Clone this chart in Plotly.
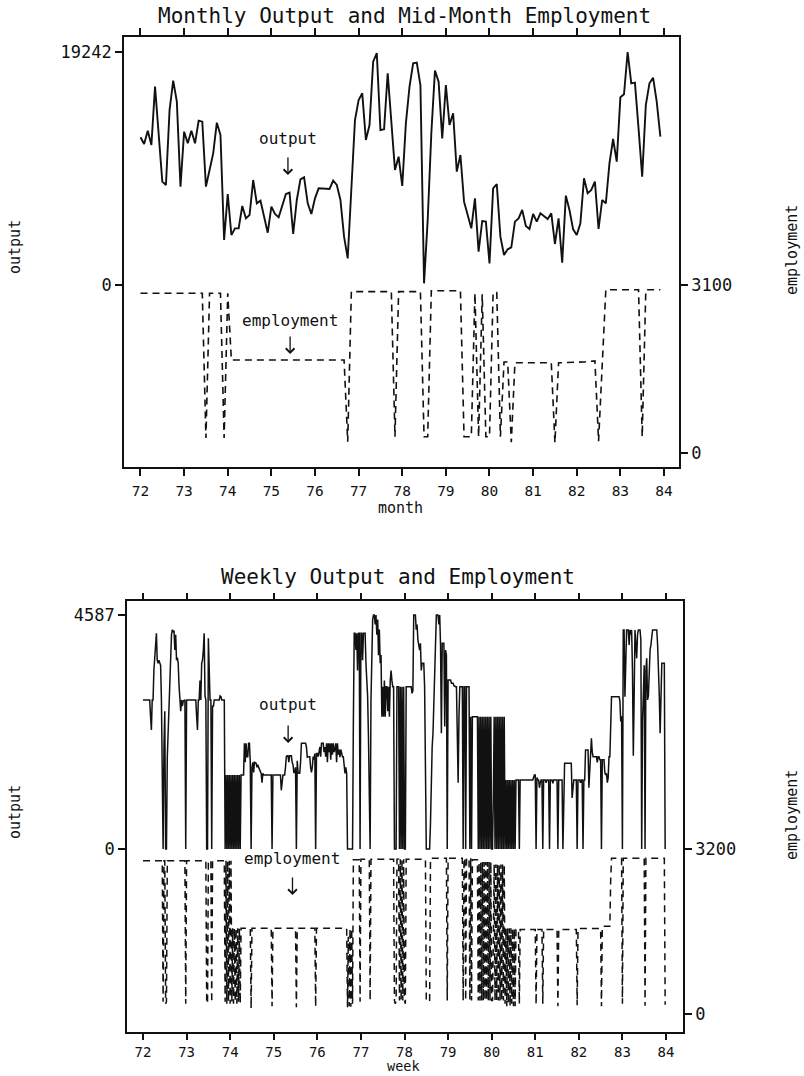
import plotly.graph_objects as go

# ---------------- monthly data (Jan 1972 .. Dec 1983) ----------------
monthly_output = [
    12196, 11645, 12746, 11563, 16380, 12251, 8534, 8259, 14453, 16876, 15142, 8121,
    12664, 11700, 12746, 11700, 13572, 13490, 8121, 9498, 10874, 13407, 12389, 3717,
    7516, 4130, 4680, 4680, 6525, 5506, 5781, 8672, 6745, 6965, 5644, 4322,
    6470, 5864, 5589, 6607, 7516, 7626, 4212, 7020, 8727, 8892, 6745, 5864,
    7158, 7984, 7984, 7929, 7929, 8617, 8259, 7020, 3992, 2202, 8397, 13627,
    15279, 15830, 11976, 13214, 18445, 19150, 12801, 12857, 17482, 13214, 9498, 10599,
    8176, 13352, 16380, 18307, 18363, 16518, 138, 5368, 12526, 17702, 16793, 12113,
    16518, 13214, 14178, 9360, 10737, 6883, 5781, 4680, 7158, 2753, 5286, 5231,
    1789, 7984, 8342, 3992, 2478, 2946, 3111, 5231, 5506, 6194, 4873, 4625,
    5864, 5231, 5919, 5699, 5451, 5919, 3386, 5506, 1845, 7378, 6194, 4598,
    4130, 5093, 8810, 7571, 7846, 8534, 4625, 7020, 6745, 10048, 12058, 10186,
    15499, 15747, 19242, 16656, 16711, 12939, 8947, 14866, 16656, 17124, 15142, 12251,
]
monthly_employment = [
    2947, 2947, 2947, 2947, 2947, 2947, 2947, 2947, 2947, 2947, 2947, 2947,
    2947, 2947, 2947, 2947, 2947, 2947, 277, 2947, 2947, 2947, 2947, 277,
    2947, 1716, 1716, 1716, 1716, 1716, 1716, 1716, 1716, 1716, 1716, 1716,
    1716, 1716, 1716, 1716, 1716, 1716, 1716, 1716, 1716, 1716, 1716, 1716,
    1716, 1716, 1716, 1716, 1716, 1716, 1716, 1716, 1716, 208, 2977, 2977,
    2977, 2977, 2977, 2977, 2977, 2977, 2977, 2977, 2977, 2977, 300, 2977,
    2977, 2977, 2977, 2977, 2977, 2977, 300, 300, 2995, 2995, 2995, 2995,
    2995, 2995, 2995, 2995, 2995, 300, 300, 300, 2950, 300, 2930, 300,
    300, 2960, 2960, 300, 1680, 1680, 200, 1666, 1666, 1666, 1666, 1666,
    1666, 1666, 1666, 1666, 1666, 1666, 190, 1666, 1666, 1666, 1680, 1680,
    1680, 1680, 1680, 1690, 1690, 1700, 220, 1690, 3013, 3013, 3013, 3013,
    3013, 3013, 3013, 3013, 3013, 3013, 300, 3013, 3013, 3013, 3013, 3013,
]

# ---------------- weekly data, one list per year (52 weeks) ----------------
wout72 = [2921, 2921, 2921, 2921, 2921, 2921, 2921, 2921, 2921, 2600, 2333, 2921, 2921, 3500, 3800, 4000, 4228, 3700, 3640, 3700, 3640, 3600, 2921, 1200, 0, 2000, 2700, 0, 0, 1800, 2300, 2900, 3300, 3800, 4200, 4300, 4250, 4280, 3900, 4200, 3700, 3750, 3640, 3200, 2921, 2700, 2921, 2800, 2900, 2921, 2921, 0]
wout73 = [2921, 2921, 2921, 2921, 2921, 2921, 2921, 2921, 2921, 2921, 2921, 2921, 2600, 2333, 2921, 2921, 3300, 2921, 3640, 3700, 3900, 4228, 3000, 2921, 0, 0, 4130, 3200, 2921, 2921, 0, 2800, 2800, 2921, 2921, 2921, 2921, 2921, 2921, 2921, 3000, 2986, 2921, 2921, 2921, 2921, 0, 1450, 0, 1450, 0, 1450]
wout74 = [0, 1450, 0, 1450, 0, 1450, 0, 1450, 0, 1450, 0, 1450, 0, 1450, 1450, 1450, 1450, 2071, 1700, 2071, 1810, 1810, 2071, 2071, 1700, 0, 1600, 1700, 1500, 1700, 1680, 1680, 1600, 1650, 1600, 1550, 1500, 1483, 1300, 1483, 1450, 1450, 1450, 1450, 1450, 1450, 1450, 1450, 1450, 1450, 0, 1450]
wout75 = [1450, 1450, 1450, 1450, 1450, 1450, 1450, 1450, 1450, 1150, 1300, 1450, 1450, 1450, 1600, 1810, 1830, 1830, 1700, 1830, 1830, 1830, 1700, 1650, 1500, 1500, 1600, 0, 1730, 1500, 1483, 1483, 1700, 2071, 2071, 2071, 2071, 2071, 2071, 2000, 1800, 1810, 1810, 1810, 1600, 1500, 1600, 1810, 1750, 1870, 0, 1870]
wout76 = [1870, 1810, 1900, 2000, 1810, 2071, 2071, 2071, 1900, 2000, 1810, 2071, 1700, 2071, 1900, 2071, 1750, 2071, 1850, 2071, 1900, 1950, 2071, 1700, 2071, 1850, 1950, 1800, 1950, 1900, 1810, 1810, 1650, 1483, 1600, 1483, 0, 0, 0, 0, 0, 0, 0, 2500, 4228, 4228, 3900, 4228, 3500, 4228, 4228, 0]
wout77 = [4228, 4228, 3700, 4228, 4228, 4228, 3640, 3300, 3000, 2200, 1000, 0, 2900, 4200, 4500, 4587, 4587, 4400, 4587, 4200, 4500, 3800, 4300, 3640, 3800, 2594, 3182, 2594, 3300, 2594, 3182, 3182, 2700, 3182, 2594, 3300, 3500, 3300, 3182, 3182, 0, 0, 0, 3182, 3182, 3182, 0, 3182, 0, 3182, 0, 3182]
wout78 = [0, 0, 3182, 3182, 3182, 3182, 3182, 3182, 3182, 3050, 3100, 4587, 4587, 4587, 4300, 4400, 4100, 4031, 3900, 4031, 3500, 3640, 3640, 3640, 3182, 2000, 0, 0, 0, 0, 0, 500, 1500, 2000, 2267, 2900, 3700, 4300, 4587, 4587, 4587, 4400, 4587, 4000, 2267, 4031, 4031, 4031, 2400, 3900, 3800, 0]
wout79 = [3313, 3313, 3313, 3313, 3250, 3250, 3250, 3200, 3182, 3182, 3182, 2500, 1300, 2600, 3182, 3182, 3182, 3182, 0, 3182, 3182, 0, 3182, 3182, 3182, 3182, 0, 2594, 0, 2594, 2594, 2594, 2594, 2594, 2594, 2594, 0, 2594, 0, 2594, 0, 2594, 0, 2594, 0, 2594, 0, 2594, 0, 2594, 0, 2594]
wout80 = [0, 0, 1000, 2594, 0, 2594, 0, 2594, 0, 2594, 0, 2594, 0, 2594, 0, 2594, 0, 1352, 0, 1352, 0, 1352, 0, 1352, 0, 1352, 0, 1352, 0, 1352, 1352, 1352, 1352, 0, 1352, 1352, 1352, 1352, 1352, 1352, 1352, 1352, 1352, 1352, 1352, 1352, 1352, 1352, 1352, 1352, 1400, 1450]
wout81 = [1450, 0, 1400, 1352, 1352, 1200, 1300, 1352, 1352, 0, 1352, 1352, 1352, 1300, 1352, 1352, 1352, 0, 1352, 1352, 1352, 1287, 1352, 1352, 1352, 1352, 1352, 0, 1352, 1352, 1352, 1352, 1352, 0, 1352, 1679, 1679, 1679, 1679, 1679, 1679, 1679, 1679, 1679, 1000, 1300, 1352, 1352, 1352, 1352, 0, 1352]
wout82 = [1352, 1352, 1300, 1352, 1352, 0, 1352, 1352, 1941, 1941, 1941, 1941, 1200, 1600, 1700, 2170, 1900, 1810, 1810, 1810, 1810, 1810, 1700, 1810, 1810, 1750, 1750, 0, 1750, 1750, 1750, 1500, 1450, 1483, 1300, 1400, 1810, 1810, 2800, 2986, 2986, 2986, 2986, 2986, 2986, 2986, 2986, 2986, 2986, 2900, 2500, 2600]
wout83 = [0, 4293, 4293, 2986, 4000, 4293, 4293, 4293, 4000, 4293, 4200, 4293, 3500, 1830, 3000, 4293, 4000, 3737, 4200, 4293, 4293, 4293, 4100, 0, 2500, 2921, 3600, 0, 3500, 3737, 2921, 3000, 3800, 3901, 4000, 4100, 4293, 4293, 4293, 4293, 4293, 4293, 4000, 3640, 3000, 2267, 3500, 3640, 3640, 3640, 3640, 0]

wemp72 = [2973, 2973, 2973, 2973, 2973, 2973, 2973, 2973, 2973, 2973, 2973, 2973, 2973, 2973, 2973, 2973, 2973, 2973, 2973, 2973, 2973, 2973, 2973, 2973, 240, 2973, 2973, 200, 240, 2973, 2973, 2973, 2973, 2973, 2973, 2973, 2973, 2973, 2973, 2973, 2973, 2973, 2973, 2973, 2973, 2973, 2973, 2973, 2973, 2973, 2973, 200]
wemp73 = [2973, 2973, 2973, 2973, 2973, 2973, 2973, 2973, 2973, 2973, 2973, 2973, 2973, 2973, 2973, 2973, 2973, 2973, 2973, 2973, 2973, 2973, 2973, 2973, 240, 200, 2973, 2973, 2973, 2973, 220, 2973, 2973, 2973, 2973, 2973, 2973, 2973, 2973, 2973, 2973, 2973, 2973, 2973, 2973, 2973, 240, 2973, 200, 2973, 240, 2973]
wemp74 = [200, 2973, 240, 1661, 200, 1661, 240, 1661, 200, 1661, 240, 1661, 200, 1661, 1661, 1661, 1661, 1661, 1661, 1661, 1661, 1661, 1661, 1661, 1661, 110, 1661, 1661, 1661, 1661, 1661, 1661, 1661, 1661, 1661, 1661, 1661, 1661, 1661, 1661, 1661, 1661, 1661, 1661, 1661, 1661, 1661, 1661, 1661, 1661, 150, 1661]
wemp75 = [1661, 1661, 1661, 1661, 1661, 1661, 1661, 1661, 1661, 1661, 1661, 1661, 1661, 1661, 1661, 1661, 1661, 1661, 1661, 1661, 1661, 1661, 1661, 1661, 1661, 1661, 1661, 130, 1661, 1661, 1661, 1661, 1661, 1661, 1661, 1661, 1661, 1661, 1661, 1661, 1661, 1661, 1661, 1661, 1661, 1661, 1661, 1661, 1661, 1661, 140, 1661]
wemp76 = [1661, 1661, 1661, 1661, 1661, 1661, 1661, 1661, 1661, 1661, 1661, 1661, 1661, 1661, 1661, 1661, 1661, 1661, 1661, 1661, 1661, 1661, 1661, 1661, 1661, 1661, 1661, 1661, 1661, 1661, 1661, 1661, 1661, 1661, 1661, 1661, 130, 1500, 150, 1661, 140, 1661, 200, 2990, 2990, 2990, 2990, 2990, 2990, 2990, 2990, 240]
wemp77 = [3000, 3000, 3000, 3000, 3000, 3000, 3000, 3000, 3000, 3000, 3000, 260, 3000, 3000, 3000, 3000, 3000, 3000, 3000, 3000, 3000, 3000, 3000, 3000, 3000, 3000, 3000, 3000, 3000, 3000, 3000, 3000, 3000, 3000, 3000, 3000, 3000, 3000, 3000, 3000, 260, 200, 260, 3000, 3000, 3000, 260, 3000, 260, 3000, 260, 3000]
wemp78 = [260, 200, 3000, 3000, 3000, 3000, 3000, 3000, 3000, 3000, 3000, 3000, 3000, 3000, 3000, 3000, 3000, 3000, 3000, 3000, 3000, 3000, 3000, 3000, 3000, 3000, 250, 250, 250, 250, 250, 3019, 3019, 3019, 3019, 3019, 3019, 3019, 3019, 3019, 3019, 3019, 3019, 3019, 3019, 3019, 3019, 3019, 3019, 3019, 3019, 260]
wemp79 = [3019, 3019, 3019, 3019, 3019, 3019, 3019, 3019, 3019, 3019, 3019, 3019, 3019, 3019, 3019, 3019, 3019, 3019, 260, 3019, 3019, 260, 3019, 3019, 3019, 3019, 260, 3019, 260, 2990, 2990, 2990, 2990, 2990, 2990, 2990, 260, 2950, 260, 2950, 260, 2950, 260, 2950, 260, 2950, 260, 2950, 260, 2950, 260, 2950]
wemp80 = [260, 260, 1500, 2900, 260, 2900, 260, 2900, 260, 2900, 260, 2900, 260, 2900, 260, 2900, 200, 1661, 150, 1661, 200, 1661, 150, 1661, 200, 1661, 150, 1661, 150, 1640, 1640, 1640, 1640, 200, 1640, 1640, 1640, 1640, 1640, 1640, 1640, 1640, 1640, 1640, 1640, 1640, 1640, 1640, 1640, 1640, 1640, 1640]
wemp81 = [1640, 180, 1640, 1640, 1640, 1640, 1640, 1640, 1640, 200, 1640, 1640, 1640, 1640, 1640, 1640, 1640, 1640, 1640, 1640, 1640, 1640, 1640, 1640, 1640, 1640, 1640, 150, 1640, 1640, 1640, 1640, 1640, 1640, 1640, 1640, 1640, 1640, 1640, 1640, 1640, 1640, 1640, 1640, 1640, 1640, 1640, 1640, 1640, 1640, 170, 1650]
wemp82 = [1660, 1660, 1660, 1660, 1660, 1660, 1660, 1660, 1660, 1660, 1660, 1660, 1660, 1660, 1660, 1660, 1660, 1660, 1660, 1660, 1660, 1660, 1660, 1660, 1660, 1660, 1660, 150, 1700, 1700, 1700, 1700, 1700, 1700, 1700, 1700, 1700, 1700, 2600, 3019, 3019, 3019, 3019, 3019, 3019, 3019, 3019, 3019, 3019, 3019, 3019, 3019]
wemp83 = [200, 3019, 3019, 3019, 3019, 3019, 3019, 3019, 3019, 3019, 3019, 3019, 3019, 3019, 3019, 3019, 3019, 3019, 3019, 3019, 3019, 3019, 3019, 3019, 3019, 3019, 3019, 160, 3019, 3019, 3019, 3019, 3019, 3019, 3019, 3019, 3019, 3019, 3019, 3019, 3019, 3019, 3019, 3019, 3019, 3019, 3019, 3019, 3019, 3019, 3019, 180]

year_ticks = [72, 73, 74, 75, 76, 77, 78, 79, 80, 81, 82, 83, 84]
year_labels = ["72", "73", "74", "75", "76", "77", "78", "79", "80", "81", "82", "83", "84"]
top_output_ticks = [0, 19242]
top_emp_ticks = [0, 3100]
bottom_output_ticks = [0, 4587]
bottom_emp_ticks = [0, 3200]

weekly_output = (wout72 + wout73 + wout74 + wout75 + wout76 + wout77 + wout78 +
                 wout79 + wout80 + wout81 + wout82 + wout83)
weekly_employment = (wemp72 + wemp73 + wemp74 + wemp75 + wemp76 + wemp77 + wemp78 +
                     wemp79 + wemp80 + wemp81 + wemp82 + wemp83)

month_x = [72 + i / 12 for i in range(len(monthly_output))]
week_x = [72 + k / 52 for k in range(len(weekly_output))]
week_xe = [72 + k / 52 for k in range(len(weekly_employment))]

W, H = 804, 1076
FONT = "DejaVu Sans Mono"
BLACK = "#111111"


def px(x):
    return x / W


def py(y):
    return 1 - y / H


fig = go.Figure()
fig.add_trace(go.Scatter(x=month_x, y=monthly_output, mode="lines", xaxis="x", yaxis="y",
                         line=dict(color=BLACK, width=1.9), showlegend=False))
fig.add_trace(go.Scatter(x=month_x, y=monthly_employment, mode="lines", xaxis="x", yaxis="y2",
                         line=dict(color=BLACK, width=1.6, dash="7px,5px"), showlegend=False))
fig.add_trace(go.Scatter(x=week_x, y=weekly_output, mode="lines", xaxis="x2", yaxis="y3",
                         line=dict(color=BLACK, width=1.5), showlegend=False))
fig.add_trace(go.Scatter(x=week_xe, y=weekly_employment, mode="lines", xaxis="x2", yaxis="y4",
                         line=dict(color=BLACK, width=1.5, dash="7px,5px"), showlegend=False))

axis_common = dict(showgrid=False, zeroline=False, showline=True, linecolor=BLACK, linewidth=1.6,
                   ticks="outside", tickwidth=1.5, tickcolor=BLACK)
xfont = dict(family=FONT, size=14.5, color=BLACK)
xfont2 = dict(family=FONT, size=14, color=BLACK)
yfont = dict(family=FONT, size=17, color=BLACK)

fig.update_layout(
    width=W, height=H, margin=dict(l=0, r=0, t=0, b=0),
    paper_bgcolor="white", plot_bgcolor="white", showlegend=False,
    xaxis=dict(domain=[px(124), px(679)], range=[71.622, 84.344], anchor="y",
               tickvals=year_ticks, ticktext=year_labels, mirror="ticks", ticklabelstandoff=3,
               ticklen=7, tickfont=xfont, **axis_common),
    yaxis=dict(domain=[py(467), py(37)], range=[-15030, 20481], anchor="x",
               tickvals=top_output_ticks, ticktext=[str(v) for v in top_output_ticks],
               ticklen=7, tickfont=yfont, **axis_common),
    yaxis2=dict(overlaying="y", side="right", anchor="x", range=[-258, 7676],
                tickvals=top_emp_ticks, ticktext=[str(v) for v in top_emp_ticks],
                ticklen=7, tickfont=yfont, **axis_common),
    xaxis2=dict(domain=[px(127), px(683)], range=[71.633, 84.39], anchor="y3",
                tickvals=year_ticks, ticktext=year_labels, mirror="ticks", ticklabelstandoff=0,
                ticklen=6, tickfont=xfont2, **axis_common),
    yaxis3=dict(domain=[py(1032), py(601)], range=[-3587, 4861], anchor="x2",
                tickvals=bottom_output_ticks, ticktext=[str(v) for v in bottom_output_ticks],
                ticklen=7, tickfont=yfont, **axis_common),
    yaxis4=dict(overlaying="y3", side="right", anchor="x2", range=[-349, 8010],
                tickvals=bottom_emp_ticks, ticktext=[str(v) for v in bottom_emp_ticks],
                ticklen=7, tickfont=yfont, **axis_common),
)

ann = []


def text(x, y, s, size, angle=0, xref="paper", yref="paper", xanchor="center", yanchor="middle"):
    ann.append(dict(x=x, y=y, xref=xref, yref=yref, text=s, showarrow=False, textangle=angle,
                    xanchor=xanchor, yanchor=yanchor,
                    font=dict(family=FONT, size=size, color=BLACK)))


def arrow(x, y, xref, yref):
    ann.append(dict(x=x, y=y, xref=xref, yref=yref, text="", showarrow=True,
                    ax=0, ay=-19, arrowhead=4, arrowsize=1.3, arrowwidth=1.3,
                    arrowcolor=BLACK, standoff=0, startstandoff=0))


# titles
text(px(405), py(16), "Monthly Output and Mid-Month Employment", 21)
text(px(398), py(577), "Weekly Output and Employment", 21)
# axis titles
text(px(15), py(247), "output", 15, angle=-90)
text(px(792), py(250), "employment", 15, angle=-90)
text(px(15), py(812), "output", 15, angle=-90)
text(px(792), py(815), "employment", 15, angle=-90)
text(px(400), py(508), "month", 15)
text(px(403), py(1076), "week", 13.5, yanchor="bottom")
# in-plot labels and pointers (data coordinates)
text(75.38, 12100, "output", 16, xref="x", yref="y")
arrow(75.38, 9084, "x", "y")
text(75.43, 2450, "employment", 16, xref="x", yref="y2")
arrow(75.43, 1827, "x", "y2")
text(75.33, 2830, "output", 16, xref="x2", yref="y3")
arrow(75.33, 2078, "x2", "y3")
text(75.43, 3020, "employment", 16, xref="x2", yref="y4")
arrow(75.43, 2308, "x2", "y4")

fig.update_layout(annotations=ann)
fig.write_html("out.html", config={"displayModeBar": False},
               post_script="document.body.style.margin='0px';document.body.style.overflow='hidden';")
